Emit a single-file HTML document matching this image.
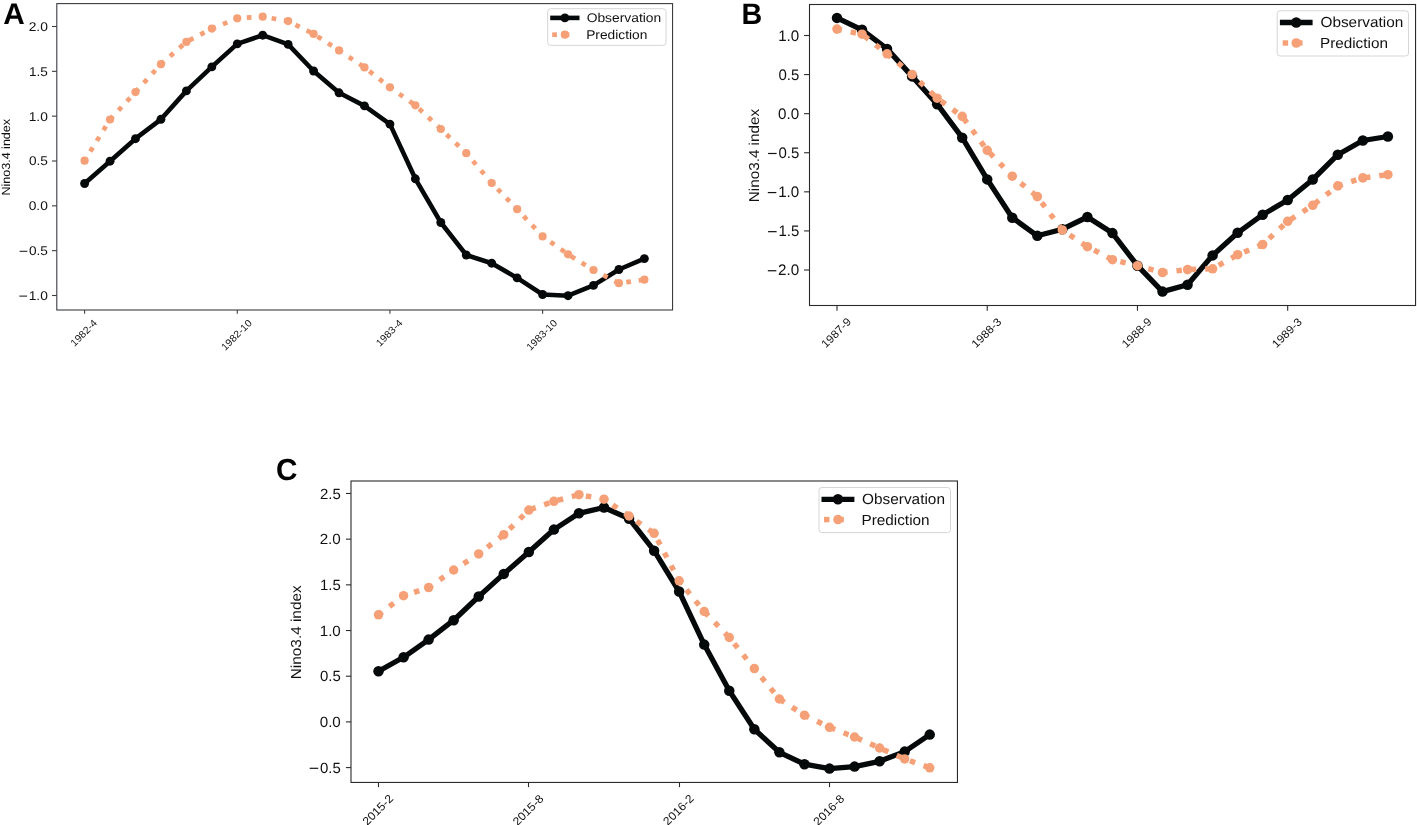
<!DOCTYPE html>
<html><head><meta charset="utf-8"><title>Nino3.4 index: observation vs prediction</title>
<style>html,body{margin:0;padding:0;background:#fff;overflow:hidden}svg{display:block}svg{will-change:transform}text{font-family:"Liberation Sans", sans-serif;text-rendering:geometricPrecision}</style>
</head><body>
<svg width="1417" height="825" viewBox="0 0 1417 825">
<rect width="1417" height="825" fill="#fff"/>
<polyline points="84.60,183.50 110.04,161.20 135.49,138.70 160.93,119.30 186.38,90.90 211.82,66.90 237.26,43.90 262.71,35.20 288.15,44.40 313.60,71.00 339.04,92.80 364.48,105.90 389.93,124.10 415.37,178.80 440.82,222.50 466.26,255.00 491.70,263.20 517.15,277.90 542.59,294.50 568.04,295.70 593.48,285.40 618.92,269.50 644.37,258.60" fill="none" stroke="#050909" stroke-width="4.6" stroke-linejoin="round"/>
<circle cx="84.60" cy="183.50" r="4.45" fill="#050909"/>
<circle cx="110.04" cy="161.20" r="4.45" fill="#050909"/>
<circle cx="135.49" cy="138.70" r="4.45" fill="#050909"/>
<circle cx="160.93" cy="119.30" r="4.45" fill="#050909"/>
<circle cx="186.38" cy="90.90" r="4.45" fill="#050909"/>
<circle cx="211.82" cy="66.90" r="4.45" fill="#050909"/>
<circle cx="237.26" cy="43.90" r="4.45" fill="#050909"/>
<circle cx="262.71" cy="35.20" r="4.45" fill="#050909"/>
<circle cx="288.15" cy="44.40" r="4.45" fill="#050909"/>
<circle cx="313.60" cy="71.00" r="4.45" fill="#050909"/>
<circle cx="339.04" cy="92.80" r="4.45" fill="#050909"/>
<circle cx="364.48" cy="105.90" r="4.45" fill="#050909"/>
<circle cx="389.93" cy="124.10" r="4.45" fill="#050909"/>
<circle cx="415.37" cy="178.80" r="4.45" fill="#050909"/>
<circle cx="440.82" cy="222.50" r="4.45" fill="#050909"/>
<circle cx="466.26" cy="255.00" r="4.45" fill="#050909"/>
<circle cx="491.70" cy="263.20" r="4.45" fill="#050909"/>
<circle cx="517.15" cy="277.90" r="4.45" fill="#050909"/>
<circle cx="542.59" cy="294.50" r="4.45" fill="#050909"/>
<circle cx="568.04" cy="295.70" r="4.45" fill="#050909"/>
<circle cx="593.48" cy="285.40" r="4.45" fill="#050909"/>
<circle cx="618.92" cy="269.50" r="4.45" fill="#050909"/>
<circle cx="644.37" cy="258.60" r="4.45" fill="#050909"/>
<polyline points="84.60,160.70 110.04,119.50 135.49,92.10 160.93,64.20 186.38,41.90 211.82,28.60 237.26,18.30 262.71,16.70 288.15,21.10 313.60,33.90 339.04,50.40 364.48,67.40 389.93,87.30 415.37,105.30 440.82,129.00 466.26,153.20 491.70,183.00 517.15,209.20 542.59,236.40 568.04,254.30 593.48,270.00 618.92,283.20 644.37,279.70" fill="none" stroke="#F6A077" stroke-width="4.713" stroke-linejoin="round" stroke-dasharray="4.713 7.776" stroke-dashoffset="1.69"/>
<circle cx="84.60" cy="160.70" r="4.1" fill="#F6A077"/>
<circle cx="110.04" cy="119.50" r="4.1" fill="#F6A077"/>
<circle cx="135.49" cy="92.10" r="4.1" fill="#F6A077"/>
<circle cx="160.93" cy="64.20" r="4.1" fill="#F6A077"/>
<circle cx="186.38" cy="41.90" r="4.1" fill="#F6A077"/>
<circle cx="211.82" cy="28.60" r="4.1" fill="#F6A077"/>
<circle cx="237.26" cy="18.30" r="4.1" fill="#F6A077"/>
<circle cx="262.71" cy="16.70" r="4.1" fill="#F6A077"/>
<circle cx="288.15" cy="21.10" r="4.1" fill="#F6A077"/>
<circle cx="313.60" cy="33.90" r="4.1" fill="#F6A077"/>
<circle cx="339.04" cy="50.40" r="4.1" fill="#F6A077"/>
<circle cx="364.48" cy="67.40" r="4.1" fill="#F6A077"/>
<circle cx="389.93" cy="87.30" r="4.1" fill="#F6A077"/>
<circle cx="415.37" cy="105.30" r="4.1" fill="#F6A077"/>
<circle cx="440.82" cy="129.00" r="4.1" fill="#F6A077"/>
<circle cx="466.26" cy="153.20" r="4.1" fill="#F6A077"/>
<circle cx="491.70" cy="183.00" r="4.1" fill="#F6A077"/>
<circle cx="517.15" cy="209.20" r="4.1" fill="#F6A077"/>
<circle cx="542.59" cy="236.40" r="4.1" fill="#F6A077"/>
<circle cx="568.04" cy="254.30" r="4.1" fill="#F6A077"/>
<circle cx="593.48" cy="270.00" r="4.1" fill="#F6A077"/>
<circle cx="618.92" cy="283.20" r="4.1" fill="#F6A077"/>
<circle cx="644.37" cy="279.70" r="4.1" fill="#F6A077"/>
<rect x="56.8" y="3.6" width="615.75" height="306.40" fill="none" stroke="#3a3c40" stroke-width="1.1"/>
<line x1="52.00" y1="26.50" x2="56.8" y2="26.50" stroke="#3a3c40" stroke-width="1.1"/>
<text x="-0.64" y="0" transform="translate(29.31,30.87) scale(1.0872,1)" font-size="12.72" fill="#111">2.0</text>
<line x1="52.00" y1="71.33" x2="56.8" y2="71.33" stroke="#3a3c40" stroke-width="1.1"/>
<text x="-0.97" y="0" transform="translate(30.03,75.70) scale(1.0676,1)" font-size="12.72" fill="#111">1.5</text>
<line x1="52.00" y1="116.16" x2="56.8" y2="116.16" stroke="#3a3c40" stroke-width="1.1"/>
<text x="-0.97" y="0" transform="translate(29.77,120.54) scale(1.0813,1)" font-size="12.72" fill="#111">1.0</text>
<line x1="52.00" y1="161.00" x2="56.8" y2="161.00" stroke="#3a3c40" stroke-width="1.1"/>
<text x="-0.50" y="0" transform="translate(29.48,165.37) scale(1.0701,1)" font-size="12.72" fill="#111">0.5</text>
<line x1="52.00" y1="205.83" x2="56.8" y2="205.83" stroke="#3a3c40" stroke-width="1.1"/>
<text x="-0.50" y="0" transform="translate(29.22,210.20) scale(1.0833,1)" font-size="12.72" fill="#111">0.0</text>
<line x1="52.00" y1="250.66" x2="56.8" y2="250.66" stroke="#3a3c40" stroke-width="1.1"/>
<text x="-0.50" y="0" transform="translate(29.48,255.04) scale(1.0701,1)" font-size="12.72" fill="#111">0.5</text>
<rect x="19.59" y="250.78" width="7.76" height="1.00" fill="#111"/>
<line x1="52.00" y1="295.50" x2="56.8" y2="295.50" stroke="#3a3c40" stroke-width="1.1"/>
<text x="-0.97" y="0" transform="translate(29.77,299.87) scale(1.0813,1)" font-size="12.72" fill="#111">1.0</text>
<rect x="19.33" y="295.61" width="7.76" height="1.00" fill="#111"/>
<line x1="84.60" y1="310.0" x2="84.60" y2="313.80" stroke="#3a3c40" stroke-width="1.1"/>
<text x="-0.76" y="0" transform="translate(75.10,346.37) rotate(-45) scale(1.0587,1)" font-size="9.96" fill="#111">1982-4</text>
<line x1="237.27" y1="310.0" x2="237.27" y2="313.80" stroke="#3a3c40" stroke-width="1.1"/>
<text x="-0.76" y="0" transform="translate(225.69,350.53) rotate(-45) scale(1.0621,1)" font-size="9.96" fill="#111">1982-10</text>
<line x1="389.94" y1="310.0" x2="389.94" y2="313.80" stroke="#3a3c40" stroke-width="1.1"/>
<text x="-0.76" y="0" transform="translate(380.44,346.37) rotate(-45) scale(1.0587,1)" font-size="9.96" fill="#111">1983-4</text>
<line x1="542.61" y1="310.0" x2="542.61" y2="313.80" stroke="#3a3c40" stroke-width="1.1"/>
<text x="-0.76" y="0" transform="translate(531.03,350.53) rotate(-45) scale(1.0621,1)" font-size="9.96" fill="#111">1983-10</text>
<text x="-0.97" y="0" transform="translate(10.20,194.55) rotate(-90) scale(1.0655,1)" font-size="11.77" fill="#111">Nino3.4 index</text>
<text x="-0.75" y="0" transform="translate(4.10,24.00) scale(0.9956,1)" font-size="29.94" font-weight="bold" fill="#000">A</text>
<rect x="547.7" y="8.7" width="118.30" height="36.70" rx="3" fill="#fff" fill-opacity="0.8" stroke="#d6d6d6" stroke-width="1"/>
<line x1="550.2" y1="17.9" x2="579.5" y2="17.9" stroke="#050909" stroke-width="4.6"/>
<circle cx="564.85" cy="17.9" r="4.45" fill="#050909"/>
<rect x="552.20" y="32.34" width="4.71" height="4.71" fill="#F6A077"/>
<rect x="564.69" y="32.34" width="4.71" height="4.71" fill="#F6A077"/>
<circle cx="564.85" cy="34.7" r="4.1" fill="#F6A077"/>
<text x="-0.60" y="0" transform="translate(587.30,21.80) scale(1.0960,1)" font-size="12.61" fill="#111">Observation</text>
<text x="-1.03" y="0" transform="translate(587.30,38.80) scale(1.0914,1)" font-size="12.61" fill="#111">Prediction</text>
<polyline points="837.00,17.90 862.04,29.80 887.08,48.90 912.12,76.40 937.16,104.20 962.20,137.70 987.24,179.40 1012.28,217.70 1037.32,235.80 1062.36,229.20 1087.40,217.00 1112.44,233.10 1137.48,265.70 1162.52,291.60 1187.56,284.70 1212.60,255.40 1237.64,232.80 1262.68,214.70 1287.72,200.00 1312.76,179.50 1337.80,154.70 1362.84,140.50 1387.88,136.50" fill="none" stroke="#050909" stroke-width="5.3" stroke-linejoin="round"/>
<circle cx="837.00" cy="17.90" r="5.25" fill="#050909"/>
<circle cx="862.04" cy="29.80" r="5.25" fill="#050909"/>
<circle cx="887.08" cy="48.90" r="5.25" fill="#050909"/>
<circle cx="912.12" cy="76.40" r="5.25" fill="#050909"/>
<circle cx="937.16" cy="104.20" r="5.25" fill="#050909"/>
<circle cx="962.20" cy="137.70" r="5.25" fill="#050909"/>
<circle cx="987.24" cy="179.40" r="5.25" fill="#050909"/>
<circle cx="1012.28" cy="217.70" r="5.25" fill="#050909"/>
<circle cx="1037.32" cy="235.80" r="5.25" fill="#050909"/>
<circle cx="1062.36" cy="229.20" r="5.25" fill="#050909"/>
<circle cx="1087.40" cy="217.00" r="5.25" fill="#050909"/>
<circle cx="1112.44" cy="233.10" r="5.25" fill="#050909"/>
<circle cx="1137.48" cy="265.70" r="5.25" fill="#050909"/>
<circle cx="1162.52" cy="291.60" r="5.25" fill="#050909"/>
<circle cx="1187.56" cy="284.70" r="5.25" fill="#050909"/>
<circle cx="1212.60" cy="255.40" r="5.25" fill="#050909"/>
<circle cx="1237.64" cy="232.80" r="5.25" fill="#050909"/>
<circle cx="1262.68" cy="214.70" r="5.25" fill="#050909"/>
<circle cx="1287.72" cy="200.00" r="5.25" fill="#050909"/>
<circle cx="1312.76" cy="179.50" r="5.25" fill="#050909"/>
<circle cx="1337.80" cy="154.70" r="5.25" fill="#050909"/>
<circle cx="1362.84" cy="140.50" r="5.25" fill="#050909"/>
<circle cx="1387.88" cy="136.50" r="5.25" fill="#050909"/>
<polyline points="837.00,29.10 862.04,34.20 887.08,53.80 912.12,74.50 937.16,98.20 962.20,116.40 987.24,150.30 1012.28,176.20 1037.32,196.60 1062.36,230.00 1087.40,246.70 1112.44,259.70 1137.48,265.70 1162.52,272.50 1187.56,269.60 1212.60,268.80 1237.64,254.70 1262.68,244.50 1287.72,221.30 1312.76,205.30 1337.80,185.90 1362.84,177.90 1387.88,174.70" fill="none" stroke="#F6A077" stroke-width="5.434" stroke-linejoin="round" stroke-dasharray="5.434 8.966" stroke-dashoffset="0.47"/>
<circle cx="837.00" cy="29.10" r="4.78" fill="#F6A077"/>
<circle cx="862.04" cy="34.20" r="4.78" fill="#F6A077"/>
<circle cx="887.08" cy="53.80" r="4.78" fill="#F6A077"/>
<circle cx="912.12" cy="74.50" r="4.78" fill="#F6A077"/>
<circle cx="937.16" cy="98.20" r="4.78" fill="#F6A077"/>
<circle cx="962.20" cy="116.40" r="4.78" fill="#F6A077"/>
<circle cx="987.24" cy="150.30" r="4.78" fill="#F6A077"/>
<circle cx="1012.28" cy="176.20" r="4.78" fill="#F6A077"/>
<circle cx="1037.32" cy="196.60" r="4.78" fill="#F6A077"/>
<circle cx="1062.36" cy="230.00" r="4.78" fill="#F6A077"/>
<circle cx="1087.40" cy="246.70" r="4.78" fill="#F6A077"/>
<circle cx="1112.44" cy="259.70" r="4.78" fill="#F6A077"/>
<circle cx="1137.48" cy="265.70" r="4.78" fill="#F6A077"/>
<circle cx="1162.52" cy="272.50" r="4.78" fill="#F6A077"/>
<circle cx="1187.56" cy="269.60" r="4.78" fill="#F6A077"/>
<circle cx="1212.60" cy="268.80" r="4.78" fill="#F6A077"/>
<circle cx="1237.64" cy="254.70" r="4.78" fill="#F6A077"/>
<circle cx="1262.68" cy="244.50" r="4.78" fill="#F6A077"/>
<circle cx="1287.72" cy="221.30" r="4.78" fill="#F6A077"/>
<circle cx="1312.76" cy="205.30" r="4.78" fill="#F6A077"/>
<circle cx="1337.80" cy="185.90" r="4.78" fill="#F6A077"/>
<circle cx="1362.84" cy="177.90" r="4.78" fill="#F6A077"/>
<circle cx="1387.88" cy="174.70" r="4.78" fill="#F6A077"/>
<rect x="809.5" y="4.5" width="606.05" height="301.00" fill="none" stroke="#2a2a2a" stroke-width="1.1"/>
<line x1="804.10" y1="35.50" x2="809.5" y2="35.50" stroke="#2a2a2a" stroke-width="1.1"/>
<text x="-1.16" y="0" transform="translate(779.30,40.75) scale(0.9919,1)" font-size="15.26" fill="#111">1.0</text>
<line x1="804.10" y1="74.59" x2="809.5" y2="74.59" stroke="#2a2a2a" stroke-width="1.1"/>
<text x="-0.60" y="0" transform="translate(778.98,79.84) scale(0.9817,1)" font-size="15.26" fill="#111">0.5</text>
<line x1="804.10" y1="113.67" x2="809.5" y2="113.67" stroke="#2a2a2a" stroke-width="1.1"/>
<text x="-0.60" y="0" transform="translate(778.70,118.92) scale(0.9938,1)" font-size="15.26" fill="#111">0.0</text>
<line x1="804.10" y1="152.75" x2="809.5" y2="152.75" stroke="#2a2a2a" stroke-width="1.1"/>
<text x="-0.60" y="0" transform="translate(778.98,158.00) scale(0.9817,1)" font-size="15.26" fill="#111">0.5</text>
<rect x="768.09" y="152.89" width="8.54" height="1.20" fill="#111"/>
<line x1="804.10" y1="191.84" x2="809.5" y2="191.84" stroke="#2a2a2a" stroke-width="1.1"/>
<text x="-1.16" y="0" transform="translate(779.30,197.09) scale(0.9919,1)" font-size="15.26" fill="#111">1.0</text>
<rect x="767.81" y="191.97" width="8.54" height="1.20" fill="#111"/>
<line x1="804.10" y1="230.92" x2="809.5" y2="230.92" stroke="#2a2a2a" stroke-width="1.1"/>
<text x="-1.16" y="0" transform="translate(779.58,236.17) scale(0.9794,1)" font-size="15.26" fill="#111">1.5</text>
<rect x="768.09" y="231.06" width="8.54" height="1.20" fill="#111"/>
<line x1="804.10" y1="270.00" x2="809.5" y2="270.00" stroke="#2a2a2a" stroke-width="1.1"/>
<text x="-0.77" y="0" transform="translate(778.80,275.25) scale(0.9973,1)" font-size="15.26" fill="#111">2.0</text>
<rect x="767.81" y="270.14" width="8.54" height="1.20" fill="#111"/>
<line x1="837.00" y1="305.5" x2="837.00" y2="310.70" stroke="#2a2a2a" stroke-width="1.1"/>
<text x="-0.85" y="0" transform="translate(826.48,347.92) rotate(-45) scale(1.0606,1)" font-size="11.18" fill="#111">1987-9</text>
<line x1="987.23" y1="305.5" x2="987.23" y2="310.70" stroke="#2a2a2a" stroke-width="1.1"/>
<text x="-0.85" y="0" transform="translate(976.74,347.84) rotate(-45) scale(1.0563,1)" font-size="11.18" fill="#111">1988-3</text>
<line x1="1137.46" y1="305.5" x2="1137.46" y2="310.70" stroke="#2a2a2a" stroke-width="1.1"/>
<text x="-0.85" y="0" transform="translate(1126.94,347.92) rotate(-45) scale(1.0606,1)" font-size="11.18" fill="#111">1988-9</text>
<line x1="1287.69" y1="305.5" x2="1287.69" y2="310.70" stroke="#2a2a2a" stroke-width="1.1"/>
<text x="-0.85" y="0" transform="translate(1277.20,347.84) rotate(-45) scale(1.0563,1)" font-size="11.18" fill="#111">1989-3</text>
<text x="-1.17" y="0" transform="translate(758.50,200.92) rotate(-90) scale(1.0655,1)" font-size="14.31" fill="#111">Nino3.4 index</text>
<text x="-1.98" y="0" transform="translate(743.40,23.80) scale(0.9701,1)" font-size="29.58" font-weight="bold" fill="#000">B</text>
<rect x="1277.2" y="10.8" width="131.30" height="45.20" rx="3" fill="#fff" fill-opacity="0.8" stroke="#d6d6d6" stroke-width="1"/>
<line x1="1279.9" y1="22.5" x2="1312.6" y2="22.5" stroke="#050909" stroke-width="5.3"/>
<circle cx="1296.25" cy="22.5" r="5.25" fill="#050909"/>
<rect x="1282.70" y="40.28" width="5.43" height="5.43" fill="#F6A077"/>
<rect x="1297.10" y="40.28" width="5.43" height="5.43" fill="#F6A077"/>
<circle cx="1296.25" cy="43.0" r="4.78" fill="#F6A077"/>
<text x="-0.69" y="0" transform="translate(1321.20,27.20) scale(1.0491,1)" font-size="14.63" fill="#111">Observation</text>
<text x="-1.20" y="0" transform="translate(1321.20,47.60) scale(1.0446,1)" font-size="14.63" fill="#111">Prediction</text>
<polyline points="378.50,671.20 403.56,657.30 428.61,639.60 453.67,620.20 478.72,596.50 503.78,573.90 528.84,552.00 553.89,529.60 578.95,513.30 604.00,507.50 629.06,518.70 654.12,550.70 679.17,591.50 704.23,644.60 729.28,690.80 754.34,729.30 779.40,752.30 804.45,764.20 829.51,768.60 854.56,766.60 879.62,761.30 904.68,751.60 929.73,734.60" fill="none" stroke="#050909" stroke-width="5.3" stroke-linejoin="round"/>
<circle cx="378.50" cy="671.20" r="5.25" fill="#050909"/>
<circle cx="403.56" cy="657.30" r="5.25" fill="#050909"/>
<circle cx="428.61" cy="639.60" r="5.25" fill="#050909"/>
<circle cx="453.67" cy="620.20" r="5.25" fill="#050909"/>
<circle cx="478.72" cy="596.50" r="5.25" fill="#050909"/>
<circle cx="503.78" cy="573.90" r="5.25" fill="#050909"/>
<circle cx="528.84" cy="552.00" r="5.25" fill="#050909"/>
<circle cx="553.89" cy="529.60" r="5.25" fill="#050909"/>
<circle cx="578.95" cy="513.30" r="5.25" fill="#050909"/>
<circle cx="604.00" cy="507.50" r="5.25" fill="#050909"/>
<circle cx="629.06" cy="518.70" r="5.25" fill="#050909"/>
<circle cx="654.12" cy="550.70" r="5.25" fill="#050909"/>
<circle cx="679.17" cy="591.50" r="5.25" fill="#050909"/>
<circle cx="704.23" cy="644.60" r="5.25" fill="#050909"/>
<circle cx="729.28" cy="690.80" r="5.25" fill="#050909"/>
<circle cx="754.34" cy="729.30" r="5.25" fill="#050909"/>
<circle cx="779.40" cy="752.30" r="5.25" fill="#050909"/>
<circle cx="804.45" cy="764.20" r="5.25" fill="#050909"/>
<circle cx="829.51" cy="768.60" r="5.25" fill="#050909"/>
<circle cx="854.56" cy="766.60" r="5.25" fill="#050909"/>
<circle cx="879.62" cy="761.30" r="5.25" fill="#050909"/>
<circle cx="904.68" cy="751.60" r="5.25" fill="#050909"/>
<circle cx="929.73" cy="734.60" r="5.25" fill="#050909"/>
<polyline points="378.50,614.80 403.56,595.70 428.61,587.60 453.67,570.00 478.72,553.90 503.78,534.70 528.84,510.10 553.89,501.30 578.95,494.70 604.00,499.20 629.06,516.00 654.12,533.30 679.17,580.80 704.23,611.50 729.28,637.50 754.34,668.60 779.40,699.00 804.45,715.20 829.51,727.30 854.56,737.00 879.62,748.00 904.68,758.90 929.73,767.80" fill="none" stroke="#F6A077" stroke-width="5.442" stroke-linejoin="round" stroke-dasharray="5.442 8.979" stroke-dashoffset="0.7"/>
<circle cx="378.50" cy="614.80" r="4.73" fill="#F6A077"/>
<circle cx="403.56" cy="595.70" r="4.73" fill="#F6A077"/>
<circle cx="428.61" cy="587.60" r="4.73" fill="#F6A077"/>
<circle cx="453.67" cy="570.00" r="4.73" fill="#F6A077"/>
<circle cx="478.72" cy="553.90" r="4.73" fill="#F6A077"/>
<circle cx="503.78" cy="534.70" r="4.73" fill="#F6A077"/>
<circle cx="528.84" cy="510.10" r="4.73" fill="#F6A077"/>
<circle cx="553.89" cy="501.30" r="4.73" fill="#F6A077"/>
<circle cx="578.95" cy="494.70" r="4.73" fill="#F6A077"/>
<circle cx="604.00" cy="499.20" r="4.73" fill="#F6A077"/>
<circle cx="629.06" cy="516.00" r="4.73" fill="#F6A077"/>
<circle cx="654.12" cy="533.30" r="4.73" fill="#F6A077"/>
<circle cx="679.17" cy="580.80" r="4.73" fill="#F6A077"/>
<circle cx="704.23" cy="611.50" r="4.73" fill="#F6A077"/>
<circle cx="729.28" cy="637.50" r="4.73" fill="#F6A077"/>
<circle cx="754.34" cy="668.60" r="4.73" fill="#F6A077"/>
<circle cx="779.40" cy="699.00" r="4.73" fill="#F6A077"/>
<circle cx="804.45" cy="715.20" r="4.73" fill="#F6A077"/>
<circle cx="829.51" cy="727.30" r="4.73" fill="#F6A077"/>
<circle cx="854.56" cy="737.00" r="4.73" fill="#F6A077"/>
<circle cx="879.62" cy="748.00" r="4.73" fill="#F6A077"/>
<circle cx="904.68" cy="758.90" r="4.73" fill="#F6A077"/>
<circle cx="929.73" cy="767.80" r="4.73" fill="#F6A077"/>
<rect x="351.0" y="481.0" width="606.45" height="301.45" fill="none" stroke="#2a2a2a" stroke-width="1.1"/>
<line x1="345.94" y1="493.47" x2="351.0" y2="493.47" stroke="#2a2a2a" stroke-width="1.1"/>
<text x="-0.75" y="0" transform="translate(320.68,498.58) scale(1.0132,1)" font-size="14.84" fill="#111">2.5</text>
<line x1="345.94" y1="539.16" x2="351.0" y2="539.16" stroke="#2a2a2a" stroke-width="1.1"/>
<text x="-0.75" y="0" transform="translate(320.40,544.26) scale(1.0258,1)" font-size="14.84" fill="#111">2.0</text>
<line x1="345.94" y1="584.85" x2="351.0" y2="584.85" stroke="#2a2a2a" stroke-width="1.1"/>
<text x="-1.13" y="0" transform="translate(321.18,589.95) scale(1.0074,1)" font-size="14.84" fill="#111">1.5</text>
<line x1="345.94" y1="630.53" x2="351.0" y2="630.53" stroke="#2a2a2a" stroke-width="1.1"/>
<text x="-1.13" y="0" transform="translate(320.90,635.63) scale(1.0202,1)" font-size="14.84" fill="#111">1.0</text>
<line x1="345.94" y1="676.21" x2="351.0" y2="676.21" stroke="#2a2a2a" stroke-width="1.1"/>
<text x="-0.58" y="0" transform="translate(320.58,681.32) scale(1.0097,1)" font-size="14.84" fill="#111">0.5</text>
<line x1="345.94" y1="721.90" x2="351.0" y2="721.90" stroke="#2a2a2a" stroke-width="1.1"/>
<text x="-0.58" y="0" transform="translate(320.30,727.00) scale(1.0222,1)" font-size="14.84" fill="#111">0.0</text>
<line x1="345.94" y1="767.59" x2="351.0" y2="767.59" stroke="#2a2a2a" stroke-width="1.1"/>
<text x="-0.58" y="0" transform="translate(320.58,772.69) scale(1.0097,1)" font-size="14.84" fill="#111">0.5</text>
<rect x="309.69" y="767.72" width="8.54" height="1.16" fill="#111"/>
<line x1="378.50" y1="782.45" x2="378.50" y2="787.10" stroke="#2a2a2a" stroke-width="1.1"/>
<text x="-0.58" y="0" transform="translate(367.62,825.68) rotate(-45) scale(1.0547,1)" font-size="11.55" fill="#111">2015-2</text>
<line x1="528.50" y1="782.45" x2="528.50" y2="787.10" stroke="#2a2a2a" stroke-width="1.1"/>
<text x="-0.58" y="0" transform="translate(517.83,825.93) rotate(-45) scale(1.0622,1)" font-size="11.55" fill="#111">2015-8</text>
<line x1="679.50" y1="782.45" x2="679.50" y2="787.10" stroke="#2a2a2a" stroke-width="1.1"/>
<text x="-0.58" y="0" transform="translate(668.28,825.68) rotate(-45) scale(1.0547,1)" font-size="11.55" fill="#111">2016-2</text>
<line x1="829.50" y1="782.45" x2="829.50" y2="787.10" stroke="#2a2a2a" stroke-width="1.1"/>
<text x="-0.58" y="0" transform="translate(818.49,825.93) rotate(-45) scale(1.0622,1)" font-size="11.55" fill="#111">2016-8</text>
<text x="-1.18" y="0" transform="translate(300.50,677.98) rotate(-90) scale(1.0655,1)" font-size="14.42" fill="#111">Nino3.4 index</text>
<text x="-1.24" y="0" transform="translate(277.30,480.15) scale(0.9794,1)" font-size="30.30" font-weight="bold" fill="#000">C</text>
<rect x="819.0" y="487.5" width="131.50" height="45.10" rx="3" fill="#fff" fill-opacity="0.8" stroke="#d6d6d6" stroke-width="1"/>
<line x1="821.5" y1="499.3" x2="854.4" y2="499.3" stroke="#050909" stroke-width="5.3"/>
<circle cx="837.95" cy="499.3" r="5.25" fill="#050909"/>
<rect x="824.00" y="516.88" width="5.44" height="5.44" fill="#F6A077"/>
<rect x="838.42" y="516.88" width="5.44" height="5.44" fill="#F6A077"/>
<circle cx="837.95" cy="519.6" r="4.73" fill="#F6A077"/>
<text x="-0.70" y="0" transform="translate(862.70,504.20) scale(1.0453,1)" font-size="14.73" fill="#111">Observation</text>
<text x="-1.21" y="0" transform="translate(862.70,524.70) scale(1.0409,1)" font-size="14.73" fill="#111">Prediction</text>
</svg>
</body></html>
